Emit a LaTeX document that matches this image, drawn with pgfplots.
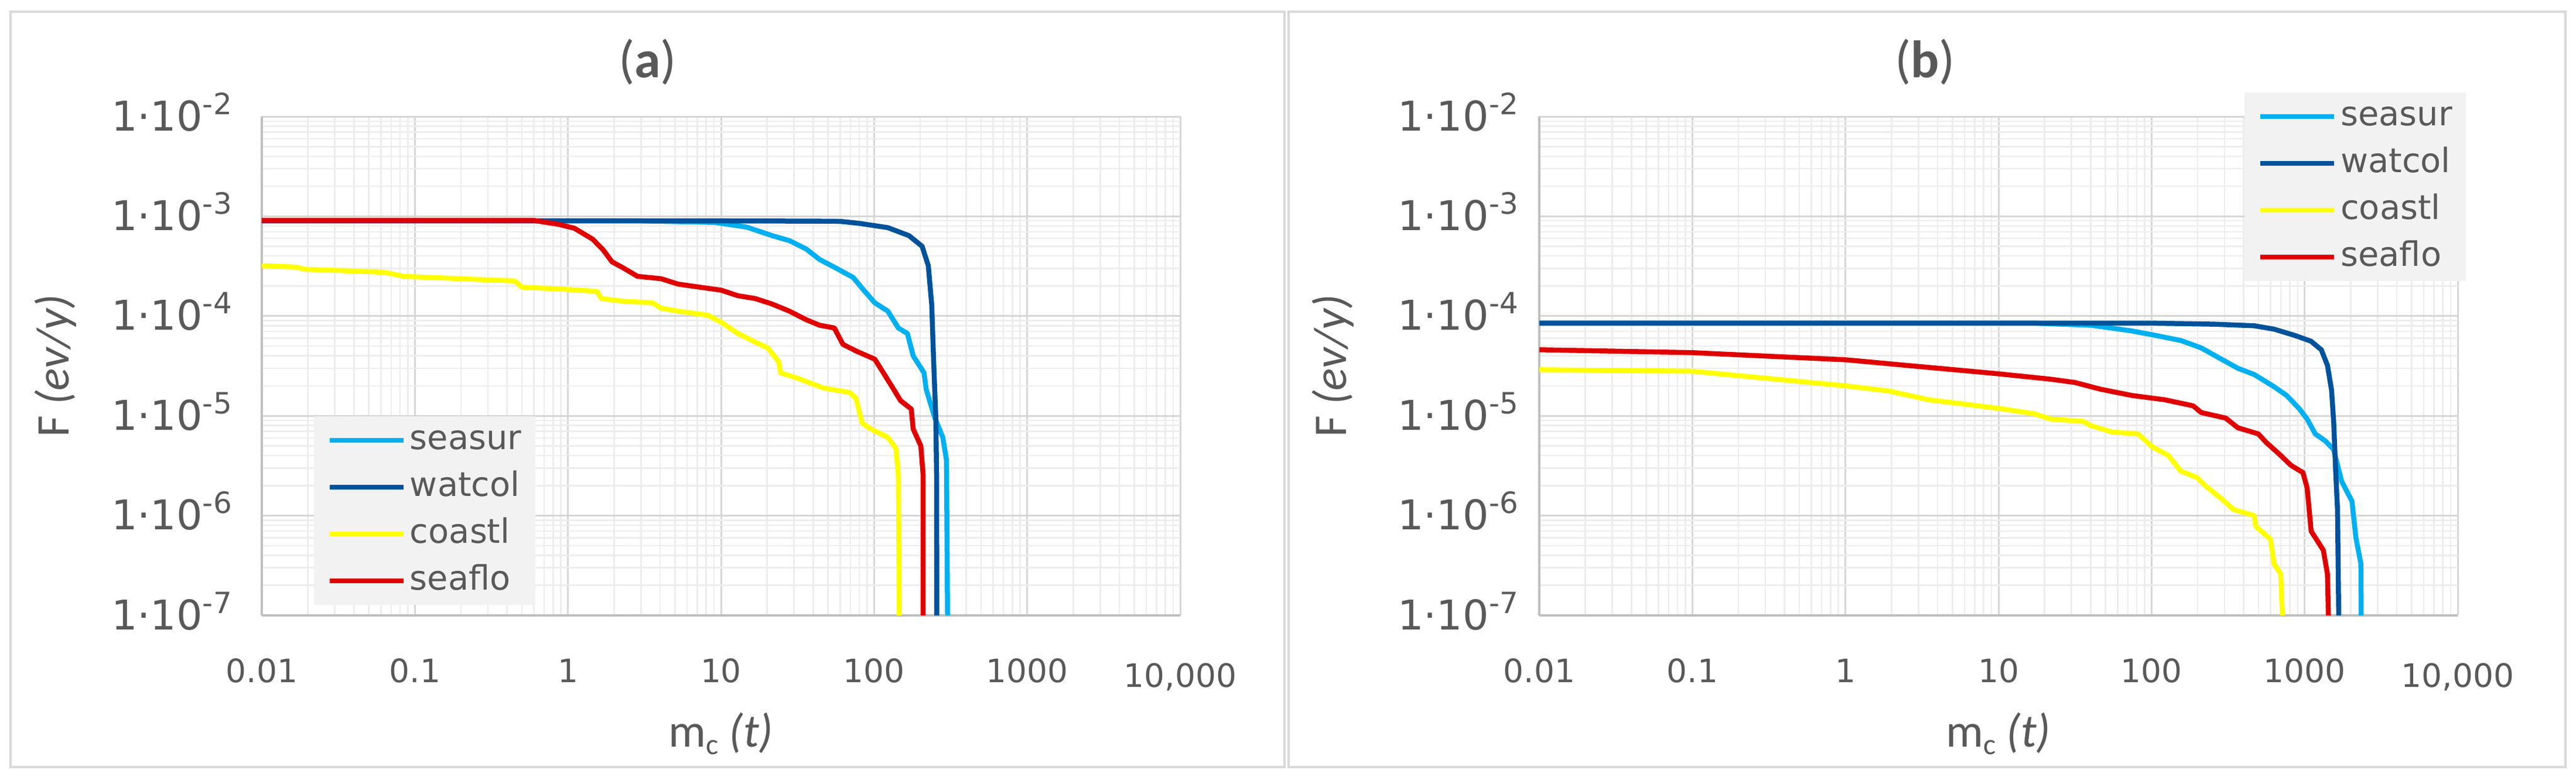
\documentclass[border=0pt]{standalone}
\usepackage{fontspec}
\setmainfont{DejaVu Sans}
\newfontfamily\labfont{Carlito}
\usepackage{pgfplots}
\pgfplotsset{compat=1.18}
\definecolor{txt}{HTML}{595959}
\definecolor{cseasur}{HTML}{00B0F0}
\definecolor{cwatcol}{HTML}{00529B}
\definecolor{ccoastl}{HTML}{FFFF00}
\definecolor{cseaflo}{HTML}{E00000}
\definecolor{gmaj}{HTML}{D6D6D6}
\definecolor{gmin}{HTML}{EDEDED}
\definecolor{axc}{HTML}{BFBFBF}
\definecolor{legfill}{HTML}{F2F2F2}
\definecolor{pframe}{HTML}{D9D9D9}

\newcommand\ytl[1]{1·10\raisebox{5.6pt}{\fontsize{10}{10}\selectfont -#1}}

\pgfplotsset{
  every axis/.append style={
    scale only axis, width=313.6pt, height=170.4pt,
    xmin=0.01, xmax=10000, ymin=1e-7, ymax=1e-2,
    xtick={0.01,0.1,1,10,100,1000,10000},
    xticklabels={0.01,0.1,1,10,100,1000,\raisebox{-1.7pt}{10,000}},
    ytick={1e-7,1e-6,1e-5,1e-4,1e-3,1e-2},
    yticklabels={\ytl7,\ytl6,\ytl5,\ytl4,\ytl3,\ytl2},
    minor xtick={0.02,0.03,0.04,0.05,0.06,0.07,0.08,0.09,
                 0.2,0.3,0.4,0.5,0.6,0.7,0.8,0.9,
                 2,3,4,5,6,7,8,9,20,30,40,50,60,70,80,90,
                 200,300,400,500,600,700,800,900,
                 2000,3000,4000,5000,6000,7000,8000,9000},
    minor ytick={2e-7,3e-7,4e-7,5e-7,6e-7,7e-7,8e-7,9e-7,
                 2e-6,3e-6,4e-6,5e-6,6e-6,7e-6,8e-6,9e-6,
                 2e-5,3e-5,4e-5,5e-5,6e-5,7e-5,8e-5,9e-5,
                 2e-4,3e-4,4e-4,5e-4,6e-4,7e-4,8e-4,9e-4,
                 2e-3,3e-3,4e-3,5e-3,6e-3,7e-3,8e-3,9e-3},
    grid=both,
    major grid style={gmaj, line width=0.6pt},
    minor grid style={gmin, line width=0.5pt},
    axis x line*=bottom, axis y line*=left,
    axis line style={axc, line width=0.8pt, -},
    major tick length=0pt, minor tick length=0pt,
    xticklabel style={font=\fontsize{11}{13}\selectfont, text=txt, anchor=base, yshift=-22.8pt},
    yticklabel style={font=\fontsize{14}{16}\selectfont, text=txt, anchor=base east, yshift=-4.8pt},
    xlabel={\labfont m\raisebox{-2.6pt}{\fontsize{10}{10}\selectfont c} \textit{(t)}},
    ylabel={\labfont F \textit{(ev/y)}},
    xlabel style={font=\fontsize{16}{18}\selectfont, text=txt, at={(axis description cs:0.5,-0.263)}, anchor=base},
    ylabel style={font=\fontsize{16}{18}\selectfont, text=txt, at={(axis description cs:-0.2103,0.5)}, anchor=base},
    title style={font=\labfont\fontsize{18}{20}\selectfont, text=txt, at={(axis description cs:0.42,1.043)}, anchor=base},
    legend style={fill=legfill, draw=none, font=\fontsize{11.5}{13}\selectfont, text=txt,
      inner xsep=4.6pt, inner ysep=2.7pt, row sep=5pt, column sep=1.4pt,
      nodes={inner sep=0pt, text height=8.5pt, text depth=2.5pt}},
    legend cell align=left,
    legend image code/.code={\draw[#1, line width=1.6pt] (0pt,0pt) -- (25.2pt,0pt);},
  },
  every axis plot/.append style={line width=1.7pt, no markers, line join=round},
}

\begin{document}
\begin{tikzpicture}
\path[use as bounding box] (0,0) rectangle (879.6pt,262.8pt);
\fill[white] (0,0) rectangle (879.6pt,262.8pt);
\draw[pframe, line width=0.8pt] (3.6pt,0.8pt) rectangle (438.6pt,258.8pt);
\draw[pframe, line width=0.8pt] (440pt,0.8pt) rectangle (876pt,258.8pt);

% ---------------- panel (a)
\begin{loglogaxis}[at={(89.4pt,52.6pt)}, anchor=south west,
  title={(\textbf{a})},
  yticklabel style={xshift=-6.7pt},
  legend style={at={(0.0561,0.4002)}, anchor=north west}]
\addplot[cseasur] coordinates {(0.01,9.0e-4) (3,9.0e-4) (9,8.7e-4) (14.7,7.8e-4) (21.6,6.4e-4) (28,5.7e-4) (36,4.7e-4) (44,3.7e-4) (57,3.0e-4) (73,2.44e-4) (84,1.88e-4) (101,1.36e-4) (123,1.12e-4) (144,7.6e-5) (165,6.7e-5) (180,4.0e-5) (212,2.7e-5) (219,1.84e-5) (249,9.6e-6) (281,6.1e-6) (297,3.6e-6) (302,1e-7)};
\addlegendentry{seasur}
\addplot[cwatcol] coordinates {(0.01,9.0e-4) (10,9.0e-4) (40,8.95e-4) (60,8.9e-4) (80,8.5e-4) (123,7.7e-4) (169,6.4e-4) (206,5.0e-4) (226,3.2e-4) (238,1.3e-4) (245,3.5e-5) (253,9.6e-6) (256,2.6e-6) (257,1e-7)};
\addlegendentry{watcol}
\addplot[ccoastl] coordinates {(0.01,3.2e-4) (0.0167,3.1e-4) (0.019,2.95e-4) (0.063,2.75e-4) (0.085,2.5e-4) (0.45,2.25e-4) (0.5,1.95e-4) (1,1.85e-4) (1.55,1.77e-4) (1.65,1.5e-4) (2.28,1.41e-4) (3.57,1.36e-4) (4.06,1.2e-4) (5.25,1.12e-4) (8.2,1.02e-4) (10,8.7e-5) (12.9,6.7e-5) (16.7,5.5e-5) (20.2,4.8e-5) (23.8,3.5e-5) (24.5,2.7e-5) (31.7,2.38e-5) (46.9,1.9e-5) (68.9,1.72e-5) (76,1.51e-5) (83.5,8.5e-6) (95,7.4e-6) (123,6.1e-6) (139,4.7e-6) (144,2.6e-6) (146,1e-7)};
\addlegendentry{coastl}
\addplot[cseaflo] coordinates {(0.01,9.1e-4) (0.6,9.1e-4) (0.87,8.3e-4) (1.1,7.6e-4) (1.45,5.9e-4) (1.7,4.6e-4) (1.94,3.5e-4) (2.28,3.06e-4) (2.85,2.5e-4) (4.06,2.37e-4) (5.25,2.09e-4) (10,1.82e-4) (12.9,1.6e-4) (16.7,1.5e-4) (21.6,1.32e-4) (28,1.12e-4) (36,9.2e-5) (44,8.1e-5) (55,7.6e-5) (62.6,5.2e-5) (78,4.4e-5) (101,3.7e-5) (115,2.7e-5) (131,1.96e-5) (149,1.42e-5) (175,1.17e-5) (180,7.4e-6) (202,5.0e-6) (209,2.6e-6) (209,1e-7)};
\addlegendentry{seaflo}
\end{loglogaxis}

% ---------------- panel (b)
\begin{loglogaxis}[at={(525.6pt,52.6pt)}, anchor=south west,
  title={(\textbf{b})},
  yticklabel style={xshift=-3.7pt},
  legend style={at={(0.7674,1.0493)}, anchor=north west}]
\addplot[cseasur] coordinates {(0.01,8.5e-5) (17,8.5e-5) (40,8.1e-5) (74.5,7.1e-5) (101,6.5e-5) (155,5.7e-5) (211,4.8e-5) (286,3.7e-5) (366,3.0e-5) (468,2.6e-5) (631,1.96e-5) (763,1.6e-5) (918,1.19e-5) (1038,9.3e-6) (1173,6.6e-6) (1367,5.6e-6) (1546,4.6e-6) (1747,2.2e-6) (2036,1.4e-6) (2163,6.0e-7) (2330,3.3e-7) (2340,1e-7)};
\addlegendentry{seasur}
\addplot[cwatcol] coordinates {(0.01,8.5e-5) (100,8.5e-5) (254,8.3e-5) (468,8.0e-5) (631,7.4e-5) (862,6.4e-5) (1100,5.6e-5) (1285,4.6e-5) (1410,3.2e-5) (1500,1.8e-5) (1550,8.4e-6) (1590,3.1e-6) (1640,1.15e-6) (1670,1e-7)};
\addlegendentry{watcol}
\addplot[ccoastl] coordinates {(0.01,2.9e-5) (0.1,2.8e-5) (1,2.0e-5) (1.9,1.78e-5) (3.5,1.45e-5) (10,1.19e-5) (17.1,1.05e-5) (21.9,9.3e-6) (35.7,8.8e-6) (40,8.0e-6) (54.8,6.9e-6) (81.6,6.6e-6) (101,4.9e-6) (129,4.0e-6) (155,2.8e-6) (199,2.4e-6) (224,2.0e-6) (286,1.48e-6) (344,1.15e-6) (468,1.0e-6) (480,7.8e-7) (598,5.8e-7) (631,3.3e-7) (697,2.6e-7) (716,1e-7)};
\addlegendentry{coastl}
\addplot[cseaflo] coordinates {(0.01,4.6e-5) (0.1,4.3e-5) (1,3.65e-5) (3.5,3.06e-5) (10,2.64e-5) (21.9,2.33e-5) (31.6,2.16e-5) (45.7,1.86e-5) (74.5,1.6e-5) (122,1.45e-5) (187,1.26e-5) (211,1.08e-5) (305,9.5e-6) (366,7.6e-6) (498,6.6e-6) (562,5.4e-6) (676,4.2e-6) (813,3.2e-6) (975,2.7e-6) (1038,1.9e-6) (1103,7.0e-7) (1325,4.5e-7) (1409,2.6e-7) (1430,1e-7)};
\addlegendentry{seaflo}
\end{loglogaxis}
\end{tikzpicture}
\end{document}
